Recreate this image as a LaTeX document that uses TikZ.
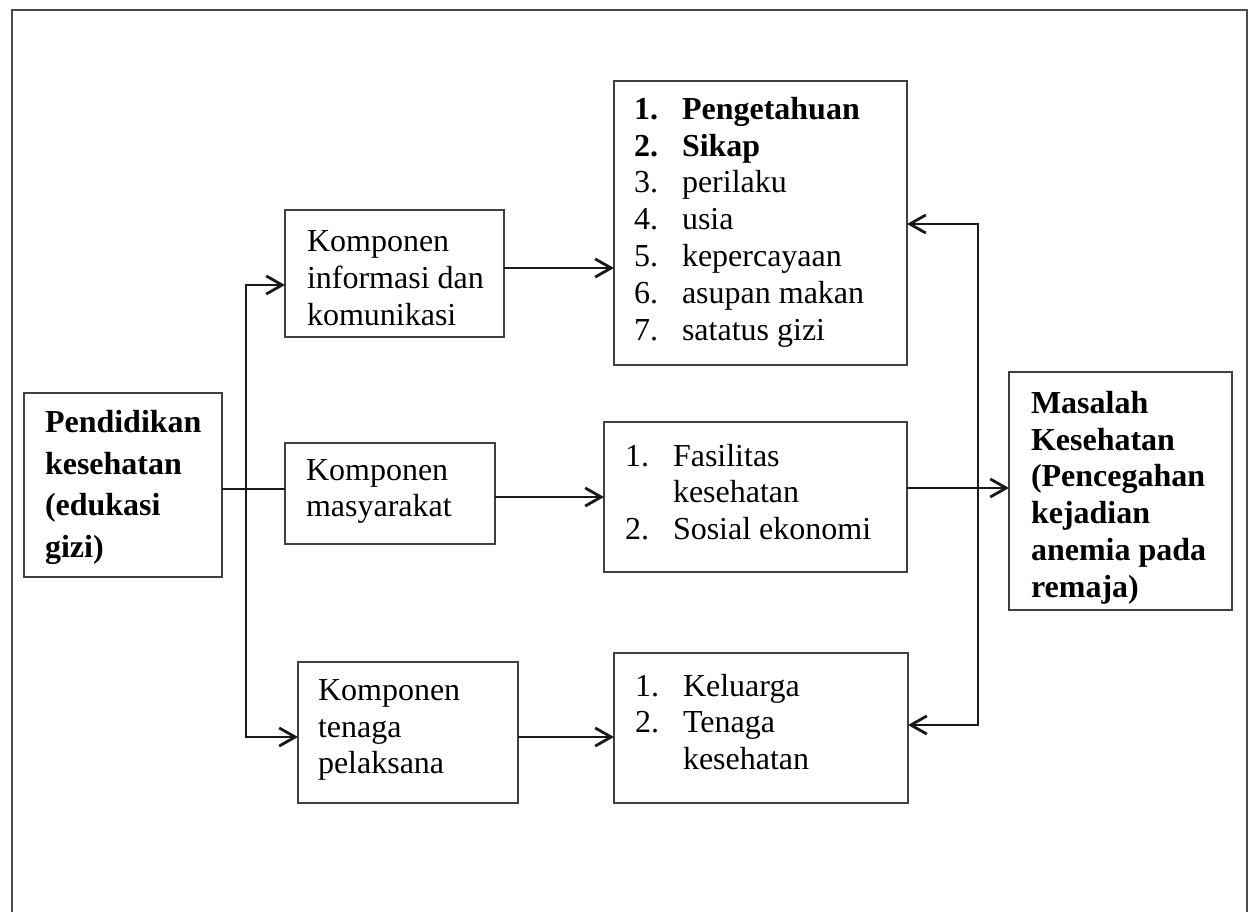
\documentclass[tikz,border=0pt]{standalone}
\usepackage{fontspec}
\setmainfont{Liberation Serif}
\usetikzlibrary{arrows.meta}
\newcommand{\numit}[2]{\makebox[18pt][l]{#1}#2}
\newcommand{\contit}[1]{\hspace*{18pt}#1}
\begin{document}
\begin{tikzpicture}[x=0.375pt,y=-0.375pt,
  box/.style={draw=black!75, line width=0.75pt, inner sep=0pt, outer sep=0pt},
  txt/.style={anchor=west, inner sep=0pt, outer sep=0pt, align=left,
    font=\fontsize{12}{13.8}\selectfont},
  btxt/.style={txt, font=\fontsize{12}{13.8}\selectfont\bfseries},
  conn/.style={draw=black!90, line width=1.05pt},
  arr/.style={conn, -{Straight Barb[length=6pt,width=6.8pt]}},
  frame/.style={draw=black!70, line width=1.1pt}
]
\useasboundingbox (0,0) rectangle (1253,911);
\fill[white] (0,0) rectangle (1253,911);
\draw[frame] (12,925) -- (12,10) -- (1247,10) -- (1247,925);

% boxes
\node[box, minimum width=74.25pt,  minimum height=69pt]     (pend)  at (123,485) {};
\node[box, minimum width=82.125pt, minimum height=47.625pt] (info)  at (394.5,273.5) {};
\node[box, minimum width=78.75pt,  minimum height=37.875pt] (masy)  at (390,493.5) {};
\node[box, minimum width=82.5pt,   minimum height=52.875pt] (tena)  at (408,732.5) {};
\node[box, minimum width=109.875pt,minimum height=106.5pt]  (list1) at (760.5,223) {};
\node[box, minimum width=113.625pt,minimum height=56.25pt]  (fas)   at (755.5,497) {};
\node[box, minimum width=110.25pt, minimum height=56.25pt]  (kel)   at (761,728) {};
\node[box, minimum width=83.625pt, minimum height=89.25pt]  (mas)   at (1120.5,491) {};

% texts
\node[btxt, font=\fontsize{12}{15.6}\selectfont\bfseries] (pendT) at (45,487.5)
  {Pendidikan\\kesehatan\\(edukasi\\gizi)};
\node[txt] (infoT) at (307,278) {Komponen\\informasi dan\\komunikasi};
\node[txt] (masyT) at (306,491.5) {Komponen\\masyarakat};
\node[txt] (tenaT) at (318,730) {Komponen\\tenaga\\pelaksana};
\node[txt] (list1T) at (634,222)
  {\textbf{\numit{1.}{Pengetahuan}}\\
   \textbf{\numit{2.}{Sikap}}\\
   \numit{3.}{perilaku}\\
   \numit{4.}{usia}\\
   \numit{5.}{kepercayaan}\\
   \numit{6.}{asupan makan}\\
   \numit{7.}{satatus gizi}};
\node[txt] (fasT) at (625,492)
  {\numit{1.}{Fasilitas}\\
   \contit{kesehatan}\\
   \numit{2.}{Sosial ekonomi}};
\node[txt] (kelT) at (635,722)
  {\numit{1.}{Keluarga}\\
   \numit{2.}{Tenaga}\\
   \contit{kesehatan}};
\node[btxt] (masT) at (1031,497.5)
  {Masalah\\Kesehatan\\(Pencegahan\\kejadian\\anemia pada\\remaja)};

% connector coordinates
\coordinate (tTop) at (246,285);
\coordinate (tMid) at (246,489);
\coordinate (tBot) at (246,737);
\coordinate (c1) at (0,268);
\coordinate (c2) at (0,497);
\coordinate (rTop) at (978,224);
\coordinate (rMid) at (978,488);
\coordinate (rBot) at (978,725);

% connectors
\draw[conn] (pend.east |- tMid) -- (masy.west |- tMid);
\draw[arr] (tMid) -- (tTop) -- (info.west |- tTop);
\draw[arr] (tMid) -- (tBot) -- (tena.west |- tBot);
\draw[arr] (info.east |- c1) -- (list1.west |- c1);
\draw[arr] (masy.east |- c2) -- (fas.west |- c2);
\draw[arr] (tena.east |- tBot) -- (kel.west |- tBot);
\draw[arr] (fas.east |- rMid) -- (mas.west |- rMid);
\draw[arr] (rMid) -- (rTop) -- (list1.east |- rTop);
\draw[arr] (rMid) -- (rBot) -- (kel.east |- rBot);
\end{tikzpicture}
\end{document}
